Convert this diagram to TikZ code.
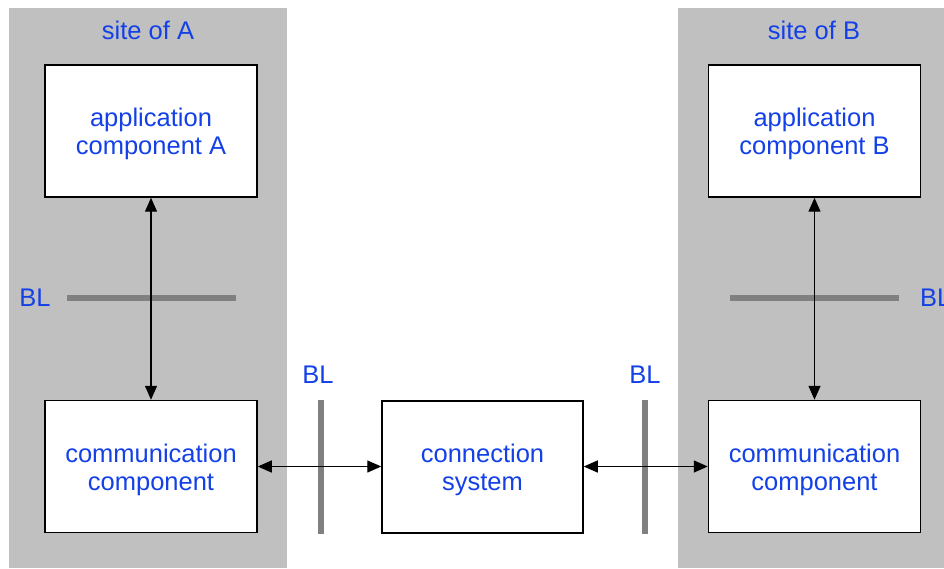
\documentclass[tikz,border=0pt]{standalone}
\usepackage{fontspec}
\setmainfont{Liberation Sans}
\usetikzlibrary{arrows.meta}
\definecolor{txtblue}{RGB}{20,64,232}
\definecolor{panelgray}{RGB}{192,192,192}
\definecolor{bargray}{RGB}{128,128,128}
\begin{document}
\begin{tikzpicture}[x=1pt,y=-1pt,
  lbl/.style={text=txtblue,font=\fontsize{25.5}{28}\selectfont,inner sep=0pt},
  compbox/.style={draw=black,line width=1.5pt,fill=white,minimum width=212pt,minimum height=132pt,inner sep=0pt},
  boxtext/.style={align=center,text=txtblue,font=\fontsize{25.5}{28}\selectfont,inner sep=0pt,yshift=-3pt},
  blbar/.style={draw=bargray,line width=5.5pt},
  conn/.style={draw=black,line width=1.4pt,{Triangle[length=14pt,width=12pt]}-{Triangle[length=14pt,width=12pt]}}]
\useasboundingbox (0,0) rectangle (944,569);
\fill[white] (0,0) rectangle (944,569);
% panels
\fill[panelgray] (9,8) rectangle (287,568);
\fill[panelgray] (678,8) rectangle (944,568);
\node[lbl] (siteA) at (148,30) {site of A};
\node[lbl] (siteB) at (814,30) {site of B};
% boxes
\node[compbox] (appA) at (151,131) {};
\node[compbox] (comA) at (151,466.5) {};
\node[compbox] (appB) at (814.5,131) {};
\node[compbox] (comB) at (814.5,466.5) {};
\node[compbox,minimum width=201pt] (consys) at (482.5,467) {};
\node[boxtext] (tappA) at (appA.center) {application\\component A};
\node[boxtext] (tcomA) at (comA.center) {communication\\component};
\node[boxtext] (tappB) at (appB.center) {application\\component B};
\node[boxtext] (tcomB) at (comB.center) {communication\\component};
\node[boxtext] (tcons) at (consys.center) {connection\\system};
% BL bars
\draw[blbar] (67,298) -- (236,298);
\draw[blbar] (730,298) -- (899,298);
\draw[blbar] (321,400) -- (321,534);
\draw[blbar] (645,400) -- (645,534);
\node[lbl] (blA) at (35,298) {BL};
\node[lbl,anchor=west] (blB) at (920,298) {BL};
\node[lbl] (blL) at (318,375) {BL};
\node[lbl] (blR) at (645,375) {BL};
% connectors
\draw[conn] (appA.south) -- (comA.north);
\draw[conn] (appB.south) -- (comB.north);
\draw[conn] (comA.east) -- (consys.west |- comA.east);
\draw[conn] (consys.east |- comB.west) -- (comB.west);
\end{tikzpicture}
\end{document}
